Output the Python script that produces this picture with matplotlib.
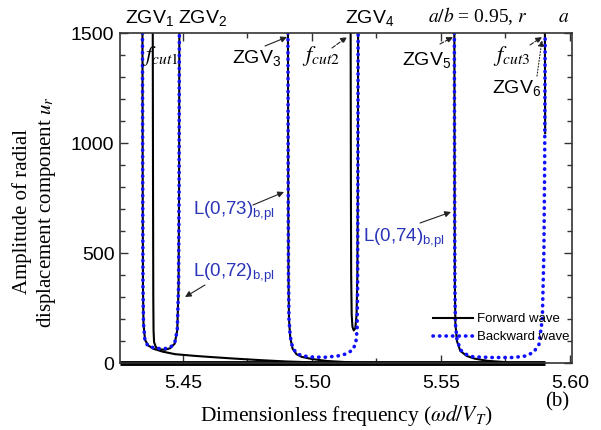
import matplotlib
matplotlib.use("Agg")
import matplotlib.pyplot as plt
from matplotlib.ticker import MultipleLocator

plt.rcParams["font.family"] = ["Liberation Sans", "DejaVu Sans"]
plt.rcParams["mathtext.fontset"] = "custom"
plt.rcParams["mathtext.rm"] = "Liberation Sans"
plt.rcParams["mathtext.it"] = "Liberation Sans:italic"

# ---- data ----
# forward wave (solid black), near-zero part along the axis
fw0_f = [5.4256, 5.5905]
fw0_u = [0, 0]
# forward wave, branch going down at ZGV1 and decaying tail
fw1_f = [5.4343, 5.4344, 5.4345, 5.4347, 5.4353, 5.4365, 5.4385, 5.4420, 5.4470, 5.4550, 5.4610, 5.4700, 5.4800, 5.4900, 5.5000]
fw1_u = [1500, 800, 350, 180, 105, 80, 65, 52, 40, 32, 27, 20, 13, 7, 3]
# forward wave, cut-off f_cut1
fw2_f = [5.4383, 5.4384, 5.4385, 5.4386, 5.4388, 5.4395, 5.4410, 5.4430, 5.4450, 5.4468, 5.4478, 5.4483, 5.4485, 5.4486]
fw2_u = [1500, 800, 300, 150, 95, 72, 62, 60, 67, 88, 150, 350, 800, 1500]
# forward wave, branch at ZGV3 and tail
fw3_f = [5.4907, 5.4908, 5.4909, 5.4911, 5.4916, 5.4925, 5.4940, 5.4960, 5.5000, 5.5060, 5.5150]
fw3_u = [1500, 800, 400, 200, 115, 65, 40, 28, 18, 9, 3]
# forward wave, cut-off f_cut2
fw4_f = [5.5150, 5.5151, 5.5152, 5.5154, 5.5157, 5.5162, 5.5168, 5.5173, 5.5176, 5.5178, 5.5179]
fw4_u = [1500, 800, 400, 220, 165, 148, 158, 220, 400, 800, 1500]
# forward wave, branch at ZGV5 and tail
fw5_f = [5.5552, 5.5553, 5.5554, 5.5556, 5.5562, 5.5575, 5.5600, 5.5630, 5.5680, 5.5750]
fw5_u = [1500, 800, 350, 180, 100, 55, 32, 20, 10, 4]
# forward wave, cut-off f_cut3
fw6_f = [5.5903, 5.5904]
fw6_u = [1500, 1045]

# backward wave (blue dotted): L(0,72), L(0,73), L(0,74)
bw1_f = [5.4343, 5.4344, 5.4345, 5.4347, 5.4353, 5.4365, 5.4390, 5.4423, 5.4450, 5.4468, 5.4478, 5.4483, 5.4485, 5.4486]
bw1_u = [1500, 800, 350, 180, 100, 77, 68, 64, 70, 91, 150, 350, 800, 1500]
bw2_f = [5.4907, 5.4908, 5.4909, 5.4911, 5.4916, 5.4925, 5.4940, 5.4960, 5.5000, 5.5050, 5.5100, 5.5135, 5.5158, 5.5170, 5.5175, 5.5177, 5.5178, 5.5179]
bw2_u = [1500, 800, 400, 200, 120, 70, 45, 33, 27, 26, 32, 42, 60, 90, 150, 350, 800, 1500]
bw3_f = [5.5552, 5.5553, 5.5554, 5.5556, 5.5562, 5.5575, 5.5600, 5.5625, 5.5700, 5.5780, 5.5830, 5.5860, 5.5880, 5.5893, 5.5899, 5.5902, 5.5904]
bw3_u = [1500, 800, 350, 180, 110, 60, 38, 28, 25, 25, 32, 50, 85, 200, 500, 900, 1500]

W, H = 601, 430


def fx(px):
    return px / W


def fy(py):
    return 1 - py / H


fig = plt.figure(figsize=(W / 100, H / 100), dpi=100)
ax = fig.add_axes([fx(120), fy(363), fx(572) - fx(120), fy(33) - fy(363)])

blk = dict(color="black", lw=1.5)
ax.plot(fw0_f, fw0_u, color="black", lw=3.5, clip_on=False, solid_capstyle="butt")
line_fw, = ax.plot(fw1_f, fw1_u, label="Forward wave", **blk)
for f, u in [(fw2_f, fw2_u), (fw3_f, fw3_u), (fw4_f, fw4_u), (fw5_f, fw5_u), (fw6_f, fw6_u)]:
    ax.plot(f, u, **blk)

blu = dict(color="#1010ff", lw=2.6, linestyle=(0, (0.1, 1.7)), dash_capstyle="round")
line_bw, = ax.plot(bw1_f, bw1_u, label="Backward wave", **blu)
ax.plot(bw2_f, bw2_u, **blu)
ax.plot(bw3_f, bw3_u, **blu)

ax.set_xlim(5.4256, 5.6008)
ax.set_ylim(0, 1500)
ax.xaxis.set_major_locator(MultipleLocator(0.05))
ax.xaxis.set_minor_locator(MultipleLocator(0.025))
ax.yaxis.set_major_locator(MultipleLocator(500))
ax.yaxis.set_minor_locator(MultipleLocator(100))
ax.set_xticks([5.45, 5.50, 5.55, 5.60])
ax.set_xticklabels(["5.45", "5.50", "5.55", "5.60"])
ax.tick_params(which="both", direction="in", top=True, right=True, labelsize=14, color="#333333")
ax.tick_params(which="major", length=6, width=1)
ax.tick_params(which="minor", length=3.5, width=1)
ax.tick_params(axis="x", pad=9)
ax.tick_params(axis="y", pad=4)
for s in ax.spines.values():
    s.set_color("#333333")
    s.set_linewidth(1.2)

serif = dict(family=["Liberation Serif", "DejaVu Serif"], math_fontfamily="stix")
fig.text(fx(346), fy(416), r"Dimensionless frequency ($\omega d/V_T$)", ha="center", va="center",
         fontsize=15.5, **serif)
fig.text(fx(557), fy(402), "(b)", ha="center", va="center", fontsize=15, **serif)
fig.text(fx(35), fy(212), "Amplitude of radial\ndisplacement component $u_r$", rotation=90,
         ha="center", va="center", multialignment="center", fontsize=15, linespacing=1.15, **serif)

# labels on top
zgv = dict(fontsize=14, ha="left", va="baseline")
fig.text(fx(125), fy(23), "ZGV$_1$", **zgv)
fig.text(fx(178), fy(23), "ZGV$_2$", **zgv)
fig.text(fx(345), fy(23), "ZGV$_4$", **zgv)
fig.text(fx(232), fy(63), "ZGV$_3$", **zgv)
fig.text(fx(402), fy(65), "ZGV$_5$", **zgv)
fig.text(fx(492), fy(93), "ZGV$_6$", **zgv)
fig.text(fx(142), fy(61), r"$f_{cut1}$", fontsize=16, ha="left", va="baseline", **serif)
fig.text(fx(302), fy(61), r"$f_{cut2}$", fontsize=16, ha="left", va="baseline", **serif)
fig.text(fx(493), fy(61), r"$f_{cut3}$", fontsize=16, ha="left", va="baseline", **serif)
fig.text(fx(428), fy(22), r"$a/b$ = 0.95, $r$", fontsize=14, ha="left", va="baseline", **serif)
fig.text(fx(558), fy(22), r"$a$", fontsize=14, ha="left", va="baseline", **serif)

lab = dict(fontsize=13.5, color="#2a35b8", ha="left", va="baseline")
fig.text(fx(193), fy(215), r"L(0,73)$_\mathrm{b{,}pl}$", **lab)
fig.text(fx(193), fy(277), r"L(0,72)$_\mathrm{b{,}pl}$", **lab)
fig.text(fx(363), fy(242), r"L(0,74)$_\mathrm{b{,}pl}$", **lab)


def arrow(x0, y0, x1, y1, ls="-"):
    ax.annotate("", xy=(fx(x1), fy(y1)), xytext=(fx(x0), fy(y0)),
                xycoords="figure fraction", textcoords="figure fraction",
                arrowprops=dict(arrowstyle="-|>", color="#222222", lw=0.8, linestyle=ls,
                                mutation_scale=9, shrinkA=0, shrinkB=0))


arrow(265, 46, 287, 37)
arrow(332, 48, 347, 37, "--")
arrow(440, 44, 453, 37, "--")
arrow(530, 45, 542, 37, "--")
arrow(537, 76, 542, 40, ":")
arrow(253, 205, 284, 192)
arrow(205, 285, 185, 297)
arrow(420, 223, 451, 212)

ax.legend(handles=[line_fw, line_bw], loc="upper left", bbox_to_anchor=(fx(433), fy(313)),
          bbox_transform=fig.transFigure, frameon=False, fontsize=9.5, handlelength=3.0,
          handletextpad=0.3, labelspacing=0.45, borderpad=0, borderaxespad=0)

fig.savefig("out.png", dpi=100)
